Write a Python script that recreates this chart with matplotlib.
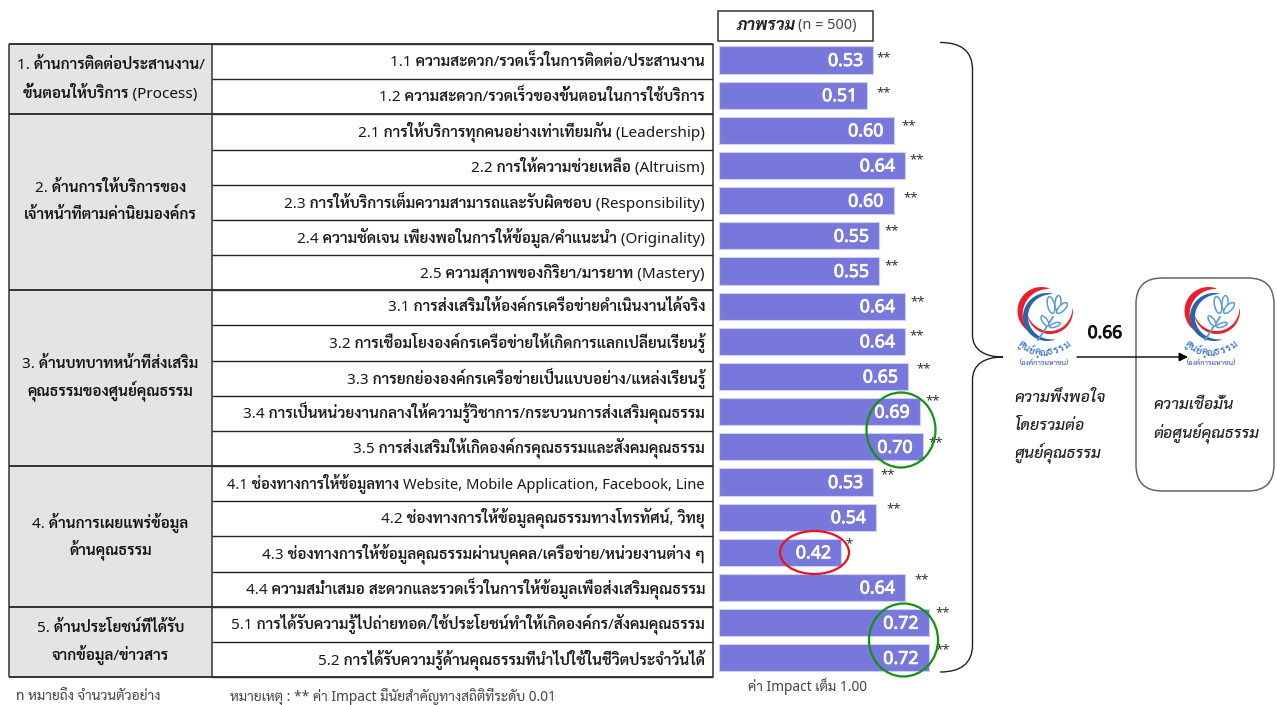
import matplotlib
matplotlib.use('Agg')
import matplotlib.pyplot as plt
import matplotlib.patheffects as pe
from matplotlib.patches import Ellipse, FancyBboxPatch, PathPatch, Rectangle, Polygon
from matplotlib.path import Path
import numpy as np

W, H = 1277, 705

group_labels = [
    ["1. ด้านการติดต่อประสานงาน/", "ขั้นตอนให้บริการ (Process)"],
    ["2. ด้านการให้บริการของ", "เจ้าหน้าที่ตามค่านิยมองค์กร"],
    ["3. ด้านบทบาทหน้าที่ส่งเสริม", "คุณธรรมของศูนย์คุณธรรม"],
    ["4. ด้านการเผยแพร่ข้อมูล", "ด้านคุณธรรม"],
    ["5. ด้านประโยชน์ที่ได้รับ", "จากข้อมูล/ข่าวสาร"],
]
group_sizes = [2, 5, 5, 4, 2]

item_labels = [
    "1.1 ความสะดวก/รวดเร็วในการติดต่อ/ประสานงาน",
    "1.2 ความสะดวก/รวดเร็วของขั้นตอนในการใช้บริการ",
    "2.1 การให้บริการทุกคนอย่างเท่าเทียมกัน (Leadership)",
    "2.2 การให้ความช่วยเหลือ (Altruism)",
    "2.3 การให้บริการเต็มความสามารถและรับผิดชอบ (Responsibility)",
    "2.4 ความชัดเจน เพียงพอในการให้ข้อมูล/คำแนะนำ (Originality)",
    "2.5 ความสุภาพของกิริยา/มารยาท (Mastery)",
    "3.1 การส่งเสริมให้องค์กรเครือข่ายดำเนินงานได้จริง",
    "3.2 การเชื่อมโยงองค์กรเครือข่ายให้เกิดการแลกเปลี่ยนเรียนรู้",
    "3.3 การยกย่ององค์กรเครือข่ายเป็นแบบอย่าง/แหล่งเรียนรู้",
    "3.4 การเป็นหน่วยงานกลางให้ความรู้วิชาการ/กระบวนการส่งเสริมคุณธรรม",
    "3.5 การส่งเสริมให้เกิดองค์กรคุณธรรมและสังคมคุณธรรม",
    "4.1 ช่องทางการให้ข้อมูลทาง Website, Mobile Application, Facebook, Line",
    "4.2 ช่องทางการให้ข้อมูลคุณธรรมทางโทรทัศน์, วิทยุ",
    "4.3 ช่องทางการให้ข้อมูลคุณธรรมผ่านบุคคล/เครือข่าย/หน่วยงานต่าง ๆ",
    "4.4 ความสม่ำเสมอ สะดวกและรวดเร็วในการให้ข้อมูลเพื่อส่งเสริมคุณธรรม",
    "5.1 การได้รับความรู้ไปถ่ายทอด/ใช้ประโยชน์ทำให้เกิดองค์กร/สังคมคุณธรรม",
    "5.2 การได้รับความรู้ด้านคุณธรรมที่นำไปใช้ในชีวิตประจำวันได้",
]
impact = [0.53, 0.51, 0.60, 0.64, 0.60, 0.55, 0.55, 0.64, 0.64,
          0.65, 0.69, 0.70, 0.53, 0.54, 0.42, 0.64, 0.72, 0.72]
stars = ["**"] * 14 + ["*"] + ["**"] * 3

# the ** marks float loosely above the bar ends
star_dx = [3, 9, 8, 4, 10, 5, 5, 5, 4, 8, 6, 6, 7, 10, 4, 9, 6.5, 6.5]
star_dy = [4, 4, 6, 7, 4, 7, 7, 6, 7, 9, 12, 6, 9, 10, 10, 9, 11, 10]

# Noto Sans has a single weight here, so weight=600 only thickens the Thai glyphs
THAI = ['Noto Sans', 'Sarabun', 'Noto Sans Thai']
BAR_COLOR = '#7878dc'
GREEN = '#129412'
RED = '#e8141c'

plt.rcParams['font.family'] = THAI

fig = plt.figure(figsize=(W / 100, H / 100), dpi=100)

# page axes in pixels, y going down, on top of the bars
page = fig.add_axes([0, 0, 1, 1], zorder=2)
page.set_xlim(0, W)
page.set_ylim(H, 0)
page.axis('off')

# table on the left
top, row_h = 44.0, 35.17
n_rows = len(item_labels)
bottom = top + n_rows * row_h
x0, x1, x2 = 9, 212, 713

row = 0
for labels, size in zip(group_labels, group_sizes):
    y = top + row * row_h
    h = size * row_h
    page.add_patch(Rectangle((x0, y), x1 - x0, h, fc='#e4e4e4', ec='none', zorder=1))
    cy = y + h / 2
    for k, line in enumerate(labels):
        page.text((x0 + x1) / 2, cy + (k - 0.5) * 27, line, ha='center', va='center',
                  fontsize=11, weight=600, color='#111111', zorder=4)
    row += size

for i in range(n_rows + 1):
    y = top + i * row_h
    page.plot([x1, x2], [y, y], color='#222222', lw=1.0, zorder=3, solid_capstyle='butt')

row = 0
for size in [0] + group_sizes:
    row += size
    y = top + row * row_h
    page.plot([x0, x2], [y, y], color='#333333', lw=1.4, zorder=3, solid_capstyle='butt')
for x in (x0, x1, x2):
    page.plot([x, x], [top, bottom], color='#333333', lw=1.1, zorder=3, solid_capstyle='butt')

for i, label in enumerate(item_labels):
    # row 4.1 is mostly latin, which runs wider in this font
    size = 10.6 if label.startswith("4.1") else 11
    page.text(705, top + (i + 0.5) * row_h, label, ha='right', va='center',
              fontsize=size, weight=600, color='#1a1a1a', zorder=4)

# bars, one unit of impact = 291 px
bar_left, unit = 719, 291
y_top = 60 - 0.5 * row_h
y_bot = y_top + n_rows * row_h
ax = fig.add_axes([bar_left / W, 1 - y_bot / H, unit / W, (y_bot - y_top) / H], zorder=1)
ax.set_xlim(0, 1)
ax.set_ylim(n_rows - 0.5, -0.5)
ax.axis('off')
y_pos = np.arange(n_rows)
ax.barh(y_pos, impact, height=0.77, color=BAR_COLOR, edgecolor='#cfcff3', linewidth=0.8)
for i, v in enumerate(impact):
    ax.annotate(f"{v:.2f}", (v, i), xytext=(-10 * 0.72, -0.7), textcoords='offset points',
                ha='right', va='center', fontsize=12.8, color='white', family=['Noto Sans'],
                path_effects=[pe.withStroke(linewidth=0.6, foreground='white')])
    ax.annotate(stars[i], (v, i), xytext=(star_dx[i] * 0.72, star_dy[i] * 0.72),
                textcoords='offset points', ha='left', va='center_baseline', fontsize=9.5,
                color='#333333', family=['Noto Sans'])

# header above the bars
page.add_patch(Rectangle((718, 11), 155, 29.5, fc='white', ec='#444444', lw=1.2, zorder=3))
page.text(736, 26, "ภาพรวม", ha='left', va='center', fontsize=12, weight=700,
          style='italic', color='#222222', family=['Sarabun', 'Noto Sans Thai'], zorder=4)
page.text(798, 26, "(n = 500)", ha='left', va='center', fontsize=10.4, color='#444444',
          family=['Noto Sans'], zorder=4)

# notes along the bottom
page.text(16, 696.5, "n หมายถึง จำนวนตัวอย่าง", ha='left', va='center', fontsize=9.9,
          color='#444444', zorder=4)
page.text(230, 696.5, "หมายเหตุ : ** ค่า Impact มีนัยสำคัญทางสถิติที่ระดับ 0.01", ha='left', va='center',
          fontsize=9.9, color='#444444', zorder=4)
page.text(807, 686, "ค่า Impact เต็ม 1.00", ha='center', va='center', fontsize=9.9,
          color='#444444', zorder=4)

# highlight rings
for cx, cy, w, h, c in [(901, 430, 69, 75, GREEN), (903.5, 640, 69, 73, GREEN),
                        (814.5, 552.5, 69, 43, RED)]:
    page.add_patch(Ellipse((cx, cy), w, h, fc='none', ec=c, lw=1.6, zorder=6))

# big brace
verts = [(940, 42.5), (960, 42.5), (972.5, 50), (972.5, 70),
         (972.5, 335),
         (972.5, 350), (985, 357), (1003, 357),
         (985, 357), (972.5, 364), (972.5, 380),
         (972.5, 645),
         (972.5, 664), (960, 672), (940, 672)]
codes = [Path.MOVETO, Path.CURVE4, Path.CURVE4, Path.CURVE4, Path.LINETO,
         Path.CURVE4, Path.CURVE4, Path.CURVE4, Path.CURVE4, Path.CURVE4, Path.CURVE4,
         Path.LINETO, Path.CURVE4, Path.CURVE4, Path.CURVE4]
page.add_patch(PathPatch(Path(verts, codes), fc='none', ec='#222222', lw=1.0, zorder=3))


def crescent(cx, cy, r, thick, t0, t1, color):
    # tapered arc, angles in degrees with y going down
    t = np.radians(np.linspace(t0, t1, 60))
    w = thick * np.sin(np.linspace(0, np.pi, 60)) ** 0.7
    outer = np.c_[cx + r * np.cos(t), cy + r * np.sin(t)]
    inner = np.c_[cx + (r - w) * np.cos(t), cy + (r - w) * np.sin(t)]
    page.add_patch(Polygon(np.r_[outer, inner[::-1]], fc=color, ec='none', zorder=3))


def draw_logo(cx):
    # cx is the centre of the mark, every part hangs off it
    red, blue, petal = '#e8202a', '#2a63ae', '#5b9bd5'
    crescent(cx - 2.5, 311, 24, 6, 125, 290, red)
    crescent(cx + 3, 317, 24, 5, 70, 285, blue)
    crescent(cx + 6, 311, 23, 3, -8, 170, red)
    page.plot([cx - 6, cx + 9], [340, 317], color=petal, lw=1.3, zorder=4)
    for px, py, w, h, a in [(cx + 7, 305, 7, 17, -12), (cx + 14, 303, 6, 15, 5),
                            (cx + 18, 308, 6, 14, 45), (cx + 1, 321, 5, 12, -35),
                            (cx + 11, 325, 4, 11, 70)]:
        page.add_patch(Ellipse((px, py), w, h, angle=a, fc='white', ec=petal, lw=1.1, zorder=4))
    # name set along a smile under the mark
    clusters = ["ศู", "น", "ย์", "คุ", "ณ", "ธ", "ร", "ร", "ม"]
    angles = np.linspace(38, -38, len(clusters))
    for s, a in zip(clusters, angles):
        ar = np.radians(a)
        page.text(cx - 38 * np.sin(ar), 315 + 38 * np.cos(ar), s, ha='center', va='center',
                  fontsize=7, weight=600, rotation=-a, rotation_mode='anchor', color='#3c78c8',
                  family=['Sarabun', 'Noto Sans Thai'], zorder=5)
    page.text(cx, 363, "(องค์การมหาชน)", ha='center', va='center', fontsize=5.3,
              color='#2a4fa8', family=['Sarabun', 'Noto Sans Thai'], zorder=4)


draw_logo(1044)
draw_logo(1211)

# path coefficient
page.annotate("", xy=(1188, 357), xytext=(1077, 357),
              arrowprops=dict(arrowstyle='-|>', color='black', lw=1.0, shrinkA=0, shrinkB=0,
                              mutation_scale=13), zorder=5)
page.text(1105, 333, "0.66", ha='center', va='center', fontsize=12.5, color='#111111',
          family=['Noto Sans'], path_effects=[pe.withStroke(linewidth=0.7, foreground='#111111')])

page.add_patch(FancyBboxPatch((1136 + 26, 278 + 26), 138 - 52, 213 - 52,
                              boxstyle='round,pad=26,rounding_size=26', fc='none',
                              ec='#666666', lw=1.1, zorder=3))

ITALIC = dict(ha='left', va='center', fontsize=11.5, style='italic', weight=500, color='#222222',
              family=['Sarabun', 'Noto Sans Thai'])
for y, line in zip([397, 425, 454], ["ความพึงพอใจ", "โดยรวมต่อ", "ศูนย์คุณธรรม"]):
    page.text(1014, y, line, **ITALIC)
for y, line in zip([405, 434], ["ความเชื่อมั่น", "ต่อศูนย์คุณธรรม"]):
    page.text(1153, y, line, **ITALIC)

fig.savefig('out.png', dpi=100)
